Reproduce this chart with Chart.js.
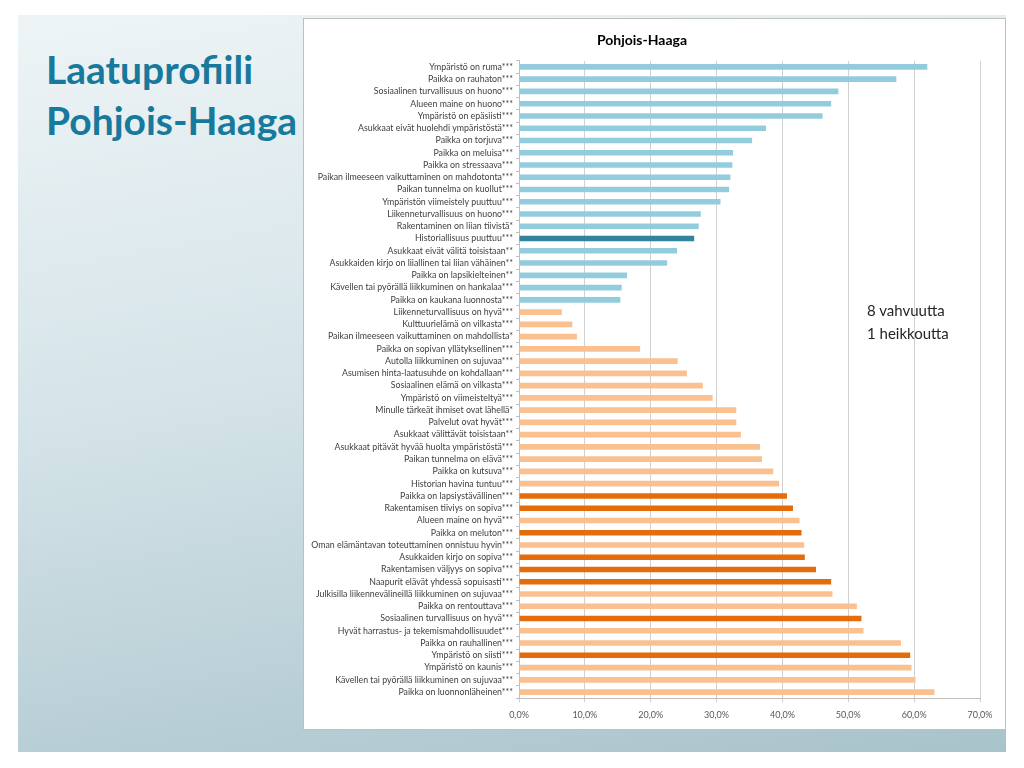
<!DOCTYPE html>
<html>
<head>
<meta charset="utf-8">
<script src="https://cdn.jsdelivr.net/npm/chart.js@4/dist/chart.umd.min.js"></script>
<style>
    html, body {
        margin: 0;
        padding: 0;
        background: #ffffff;
    }
    #slide {
        position: absolute;
        left: 18px;
        top: 15px;
        width: 988px;
        height: 737px;
        background: linear-gradient(170deg, #eef4f6 0%, #d5e4e9 45%, #a9c3cb 100%);
        font-family: Lato, "Open Sans", sans-serif;
    }
    #heading {
        position: absolute;
        left: 28px;
        top: 29px;
        margin: 0;
        color: #17799b;
        font-size: 39px;
        font-weight: bold;
        line-height: 51px;
    }
    #panel {
        position: absolute;
        left: 285px;
        top: 3px;
        width: 701px;
        height: 710px;
        background: #ffffff;
        border: 1px solid #bfbfbf;
    }
    #note {
        position: absolute;
        left: 563px;
        top: 280px;
        color: #262626;
        font-size: 15px;
        line-height: 23px;
    }
</style>
</head>
<body>
<div id="slide">
    <h1 id="heading">Laatuprofiili<br>Pohjois-Haaga</h1>
    <div id="panel">
        <canvas id="chart" width="701" height="710"></canvas>
        <div id="note">8 vahvuutta<br>1 heikkoutta</div>
    </div>
</div>
<script>
// Heikkoudet (weaknesses), share of respondents in %
const weaknessLabels = [
    'Ympäristö on ruma***',
    'Paikka on rauhaton***',
    'Sosiaalinen turvallisuus on huono***',
    'Alueen maine on huono***',
    'Ympäristö on epäsiisti***',
    'Asukkaat eivät huolehdi ympäristöstä***',
    'Paikka on torjuva***',
    'Paikka on meluisa***',
    'Paikka on stressaava***',
    'Paikan ilmeeseen vaikuttaminen on mahdotonta***',
    'Paikan tunnelma on kuollut***',
    'Ympäristön viimeistely puuttuu***',
    'Liikenneturvallisuus on huono***',
    'Rakentaminen on liian tiivistä*',
    'Historiallisuus puuttuu***',
    'Asukkaat eivät välitä toisistaan**',
    'Asukkaiden kirjo on liiallinen tai liian vähäinen**',
    'Paikka on lapsikielteinen**',
    'Kävellen tai pyörällä liikkuminen on hankalaa***',
    'Paikka on kaukana luonnosta***'
];
const weaknessValues = [62.0, 57.3, 48.5, 47.4, 46.1, 37.5, 35.4, 32.5, 32.4, 32.1,
    31.9, 30.6, 27.6, 27.3, 26.6, 24.0, 22.5, 16.4, 15.6, 15.4];

// Vahvuudet (strengths)
const strengthLabels = [
    'Liikenneturvallisuus on hyvä***',
    'Kulttuurielämä on vilkasta***',
    'Paikan ilmeeseen vaikuttaminen on mahdollista*',
    'Paikka on sopivan yllätyksellinen***',
    'Autolla liikkuminen on sujuvaa***',
    'Asumisen hinta-laatusuhde on kohdallaan***',
    'Sosiaalinen elämä on vilkasta***',
    'Ympäristö on viimeisteltyä***',
    'Minulle tärkeät ihmiset ovat lähellä*',
    'Palvelut ovat hyvät***',
    'Asukkaat välittävät toisistaan**',
    'Asukkaat pitävät hyvää huolta ympäristöstä***',
    'Paikan tunnelma on elävä***',
    'Paikka on kutsuva***',
    'Historian havina tuntuu***',
    'Paikka on lapsiystävällinen***',
    'Rakentamisen tiiviys on sopiva***',
    'Alueen maine on hyvä***',
    'Paikka on meluton***',
    'Oman elämäntavan toteuttaminen onnistuu hyvin***',
    'Asukkaiden kirjo on sopiva***',
    'Rakentamisen väljyys on sopiva***',
    'Naapurit elävät yhdessä sopuisasti***',
    'Julkisilla liikennevälineillä liikkuminen on sujuvaa***',
    'Paikka on rentouttava***',
    'Sosiaalinen turvallisuus on hyvä***',
    'Hyvät harrastus- ja tekemismahdollisuudet***',
    'Paikka on rauhallinen***',
    'Ympäristö on siisti***',
    'Ympäristö on kaunis***',
    'Kävellen tai pyörällä liikkuminen on sujuvaa***',
    'Paikka on luonnonläheinen***'
];
const strengthValues = [6.5, 8.1, 8.8, 18.4, 24.1, 25.5, 27.9, 29.4, 33.0, 33.0,
    33.7, 36.6, 36.9, 38.6, 39.5, 40.7, 41.6, 42.6, 42.9, 43.3,
    43.4, 45.1, 47.4, 47.6, 51.3, 52.0, 52.3, 58.0, 59.4, 59.6,
    60.2, 63.1];

// Highlighted items (the "1 heikkoutta" and "8 vahvuutta")
const keyWeaknesses = ['Historiallisuus puuttuu***'];
const keyStrengths = [
    'Paikka on lapsiystävällinen***',
    'Rakentamisen tiiviys on sopiva***',
    'Paikka on meluton***',
    'Asukkaiden kirjo on sopiva***',
    'Rakentamisen väljyys on sopiva***',
    'Naapurit elävät yhdessä sopuisasti***',
    'Sosiaalinen turvallisuus on hyvä***',
    'Ympäristö on siisti***'
];

const xTicks = [0, 10, 20, 30, 40, 50, 60, 70];

let labels = weaknessLabels.concat(strengthLabels);
let values = weaknessValues.concat(strengthValues);
let colors = [];

weaknessLabels.forEach(l => colors.push(keyWeaknesses.includes(l) ? '#31849b' : '#93cddd'));
strengthLabels.forEach(l => colors.push(keyStrengths.includes(l) ? '#e46c0a' : '#fac090'));

new Chart(document.getElementById('chart'), {
    type: 'bar',
    data: {
        labels: labels,
        datasets: [{
            data: values,
            backgroundColor: colors,
            barPercentage: 0.46,
            categoryPercentage: 1
        }]
    },
    options: {
        indexAxis: 'y',
        responsive: false,
        animation: false,
        layout: {
            padding: {top: 0, right: 25, bottom: 2, left: 0}
        },
        plugins: {
            legend: {display: false},
            tooltip: {enabled: false},
            title: {
                display: true,
                text: 'Pohjois-Haaga',
                color: '#000000',
                font: {family: 'Lato', size: 14, weight: 'bold'},
                padding: {top: 13, bottom: 12}
            }
        },
        scales: {
            x: {
                min: 0,
                max: 70,
                afterBuildTicks: axis => {
                    axis.ticks = xTicks.map(v => ({value: v}));
                },
                ticks: {
                    color: '#595959',
                    font: {family: 'Lato', size: 9},
                    padding: 7,
                    callback: v => v.toFixed(1).replace('.', ',') + '%'
                },
                grid: {
                    color: '#d0d0d0',
                    tickLength: 4
                },
                border: {color: '#bfbfbf'}
            },
            y: {
                afterFit: axis => {
                    axis.width = 215;
                },
                ticks: {
                    autoSkip: false,
                    color: '#404040',
                    font: {family: 'Lato', size: 8.8},
                    padding: 3
                },
                grid: {
                    drawOnChartArea: false,
                    color: '#bfbfbf',
                    tickLength: 3
                },
                border: {color: '#bfbfbf'}
            }
        }
    }
});
</script>
</body>
</html>
